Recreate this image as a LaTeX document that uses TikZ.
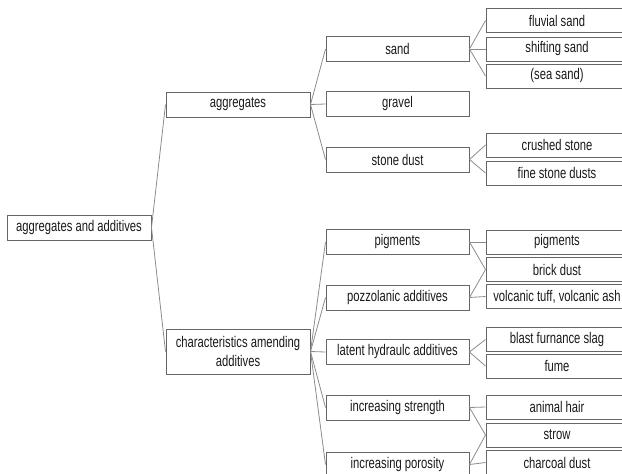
\documentclass[tikz,border=0pt]{standalone}
\usepackage{fontspec}
\setmainfont[FakeStretch=0.73]{Liberation Sans}
\begin{document}
\begin{tikzpicture}[x=1pt, y=-1pt,
    box/.style={draw=black!60, line width=1pt, rectangle, inner sep=0pt, minimum height=25pt, font=\fontsize{15.4}{19}\selectfont, text=black!90, align=center},
    mid/.style={box, minimum width=143pt},
    leaf/.style={box, minimum width=142pt, minimum height=24pt},
    link/.style={draw=black!45, line width=0.8pt}]
  \useasboundingbox (0,0) rectangle (622,474);
  % levels 0 and 1
  \node[box, minimum width=144pt] (root) at (79,227.5) {aggregates and additives};
  \node[box, minimum width=144pt] (aggr) at (238,104.5) {aggregates};
  \node[box, minimum width=144pt, minimum height=45pt] (charadd) at (238,351.5) {characteristics amending\\additives};
  % level 2
  \node[mid] (sand) at (397.5,49) {sand};
  \node[mid] (gravel) at (397.5,104) {gravel};
  \node[mid] (stonedust) at (397.5,159.5) {stone dust};
  \node[mid] (pigm) at (397.5,242) {pigments};
  \node[mid] (pozz) at (397.5,297.5) {pozzolanic additives};
  \node[mid] (latent) at (397.5,352) {latent hydraulc additives};
  \node[mid] (strength) at (397.5,407.5) {increasing strength};
  \node[mid] (porosity) at (397.5,464.5) {increasing porosity};
  % level 3
  \node[leaf] (fluvial) at (557,20.5) {fluvial sand};
  \node[leaf] (shifting) at (557,49) {shifting sand};
  \node[leaf] (sea) at (557,76) {(sea sand)};
  \node[leaf] (crushed) at (557,145) {crushed stone};
  \node[leaf] (fine) at (557,173) {fine stone dusts};
  \node[leaf] (pigmleaf) at (557,242) {pigments};
  \node[leaf] (brick) at (557,269.5) {brick dust};
  \node[leaf] (volcanic) at (557,296.5) {volcanic tuff, volcanic ash};
  \node[leaf] (slag) at (557,339.5) {blast furnance slag};
  \node[leaf] (fume) at (557,366) {fume};
  \node[leaf] (hair) at (557,407) {animal hair};
  \node[leaf] (strow) at (557,435) {strow};
  \node[leaf] (charcoal) at (557,462.5) {charcoal dust};
  % connectors
  \foreach \a/\b in {root/aggr, root/charadd,
      aggr/sand, aggr/gravel, aggr/stonedust,
      charadd/pigm, charadd/pozz, charadd/latent, charadd/strength, charadd/porosity,
      sand/fluvial, sand/shifting, sand/sea,
      stonedust/crushed, stonedust/fine,
      pigm/pigmleaf, pigm/brick, pozz/brick, pozz/volcanic,
      latent/slag, latent/fume,
      strength/hair, strength/strow, porosity/strow, porosity/charcoal}
    \draw[link] (\a.east) -- (\b.west);
\end{tikzpicture}
\end{document}
